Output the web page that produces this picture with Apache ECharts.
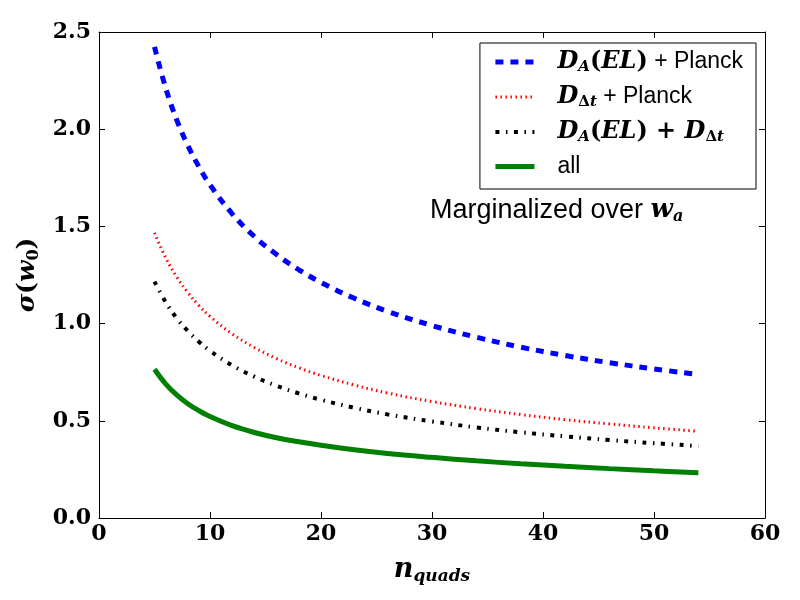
<!DOCTYPE html>
<html>
<head>
<meta charset="utf-8">
<script src="https://cdn.jsdelivr.net/npm/echarts@6/dist/echarts.min.js"></script>
<style>html,body{margin:0;padding:0;background:#fff}#c{width:800px;height:600px}</style>
</head>
<body>
<div id="c"></div>
<script>
var nQuads = [5,6,7,8,9,10,12,14,16,18,20,23,26,30,34,38,42,46,50,54];
var sigmaDAPlanck = [2.424,2.213,2.048,1.917,1.807,1.714,1.565,1.448,1.355,1.277,1.212,1.130,1.063,0.990,0.930,0.879,0.836,0.799,0.767,0.738];
var sigmaDtPlanck = [1.467,1.339,1.240,1.160,1.093,1.037,0.947,0.877,0.820,0.773,0.733,0.684,0.643,0.599,0.563,0.532,0.506,0.484,0.464,0.446];
var sigmaDADt = [1.216,1.111,1.028,0.962,0.907,0.860,0.785,0.727,0.680,0.641,0.608,0.567,0.533,0.497,0.466,0.441,0.420,0.401,0.385,0.370];
var sigmaAll = [0.765,0.690,0.633,0.588,0.552,0.522,0.475,0.440,0.413,0.392,0.374,0.351,0.332,0.312,0.294,0.279,0.266,0.254,0.243,0.233];
var xTicks = [0,10,20,30,40,50,60];
var yTicks = [0.0,0.5,1.0,1.5,2.0,2.5];
var seriesNames = ['DA_Planck','Dt_Planck','DA_Dt','all'];

function pairs(ys){ return nQuads.map(function(n,i){ return [n, ys[i]]; }); }

var serif = 'DejaVu Serif';
var sans = 'Liberation Sans';
var mathRich = {
  m: {fontFamily: serif, fontStyle: 'italic', fontWeight: 'bold', fontSize: 24, color: '#000'},
  mu: {fontFamily: serif, fontWeight: 'bold', fontSize: 24, color: '#000'},
  s: {fontFamily: serif, fontStyle: 'italic', fontWeight: 'bold', fontSize: 15, color: '#000', verticalAlign: 'bottom', padding: [11,0,0,0]},
  su: {fontFamily: serif, fontWeight: 'bold', fontSize: 15, color: '#000', verticalAlign: 'bottom', padding: [11,0,0,0]},
  t: {fontFamily: sans, fontSize: 23, color: '#000'}
};
var legendText = {
  'DA_Planck': '{m|D}{s|A}{mu|(}{m|EL}{mu|)}{t| + Planck}',
  'Dt_Planck': '{m|D}{su|Δ}{s|t}{t| + Planck}',
  'DA_Dt': '{m|D}{s|A}{mu|(}{m|EL}{mu|) + }{m|D}{su|Δ}{s|t}',
  'all': '{t|all}'
};
var styles = {
  'DA_Planck': {color: '#0000ff', width: 5, type: [8, 7], cap: 'butt'},
  'Dt_Planck': {color: '#ff0000', width: 3, type: [1.5, 3.5], cap: 'butt'},
  'DA_Dt': {color: '#000000', width: 4, type: [4, 6.5, 1.5, 6.5], cap: 'butt'},
  'all': {color: '#008000', width: 5, type: 'solid', cap: 'butt'}
};

var chart = echarts.init(document.getElementById('c'), null, {renderer: 'canvas'});
var option = {
  animation: false,
  grid: {left: 99, top: 32, right: 35, bottom: 82, show: false},
  legend: {
    orient: 'vertical',
    right: 44, top: 43,
    padding: [7, 13, 11, 13],
    itemGap: 10,
    itemWidth: 39, itemHeight: 24,
    borderColor: '#000', borderWidth: 1, borderRadius: 0,
    backgroundColor: '#fff',
    itemStyle: {opacity: 0},
    data: seriesNames.map(function(n){ return {name: n, lineStyle: styles[n]}; }),
    formatter: function(name){ return legendText[name]; },
    textStyle: {rich: mathRich, padding: [0,0,0,18]}
  },
  xAxis: [{
    type: 'value', min: 0, max: 60, interval: 10,
    position: 'bottom',
    axisLine: {show: true, onZero: false, lineStyle: {color: '#000', width: 1}},
    axisTick: {show: true, inside: true, length: 6, lineStyle: {color: '#000'}},
    axisLabel: {margin: 5, formatter: function(v){ return xTicks.indexOf(v) >= 0 ? String(v) : ''; }, fontFamily: serif, fontWeight: 'bold', fontSize: 22, color: '#000'},
    splitLine: {show: false},
    name: '{n|n}{q|quads}',
    nameLocation: 'middle', nameGap: 37,
    nameTextStyle: {rich: {
      n: {fontFamily: serif, fontStyle: 'italic', fontWeight: 'bold', fontSize: 27, color: '#000'},
      q: {fontFamily: serif, fontStyle: 'italic', fontWeight: 'bold', fontSize: 17, color: '#000', verticalAlign: 'bottom', padding: [13,0,0,0]}
    }}
  },{
    type: 'value', min: 0, max: 60, interval: 10,
    position: 'top',
    axisLine: {show: true, onZero: false, lineStyle: {color: '#000', width: 1}},
    axisTick: {show: true, inside: true, length: 6, lineStyle: {color: '#000'}},
    axisLabel: {show: false},
    splitLine: {show: false}
  }],
  yAxis: [{
    type: 'value', min: 0, max: 2.5, interval: 0.5,
    position: 'left',
    axisLine: {show: true, onZero: false, lineStyle: {color: '#000', width: 1}},
    axisTick: {show: true, inside: true, length: 6, lineStyle: {color: '#000'}},
    axisLabel: {margin: 8, formatter: function(v){ return v.toFixed(1); }, fontFamily: serif, fontWeight: 'bold', fontSize: 22, color: '#000'},
    splitLine: {show: false},
    name: '{s|σ}{p|(}{w|w}{z|0}{p|)}',
    nameLocation: 'middle', nameGap: 54, nameRotate: 90,
    nameTextStyle: {rich: {
      s: {fontFamily: serif, fontStyle: 'italic', fontWeight: 'bold', fontSize: 25, color: '#000'},
      p: {fontFamily: serif, fontWeight: 'bold', fontSize: 25, color: '#000'},
      w: {fontFamily: serif, fontStyle: 'italic', fontWeight: 'bold', fontSize: 25, color: '#000'},
      z: {fontFamily: serif, fontWeight: 'bold', fontSize: 16, color: '#000', verticalAlign: 'bottom', padding: [12,0,0,0]}
    }}
  },{
    type: 'value', min: 0, max: 2.5, interval: 0.5,
    position: 'right',
    axisLine: {show: true, onZero: false, lineStyle: {color: '#000', width: 1}},
    axisTick: {show: true, inside: true, length: 6, lineStyle: {color: '#000'}},
    axisLabel: {show: false},
    splitLine: {show: false}
  }],
  graphic: [{
    type: 'text', left: 430, top: 197,
    style: {
      rich: {
        t: {fontFamily: sans, fontSize: 27, fill: '#000'},
        w: {fontFamily: serif, fontStyle: 'italic', fontWeight: 'bold', fontSize: 26, fill: '#000'},
        a: {fontFamily: serif, fontStyle: 'italic', fontWeight: 'bold', fontSize: 16, fill: '#000', verticalAlign: 'bottom', padding: [12,0,0,0]}
      },
      text: '{t|Marginalized over }{w|w}{a|a}'
    }
  }],
  series: seriesNames.map(function(n, i){
    var ys = [sigmaDAPlanck, sigmaDtPlanck, sigmaDADt, sigmaAll][i];
    return {name: n, type: 'line', data: pairs(ys), smooth: 0.4, symbol: 'none', z: [4,3,3,2][i],
      lineStyle: styles[n], itemStyle: {color: styles[n].color}};
  })
};
chart.setOption(option);
</script>
</body>
</html>
